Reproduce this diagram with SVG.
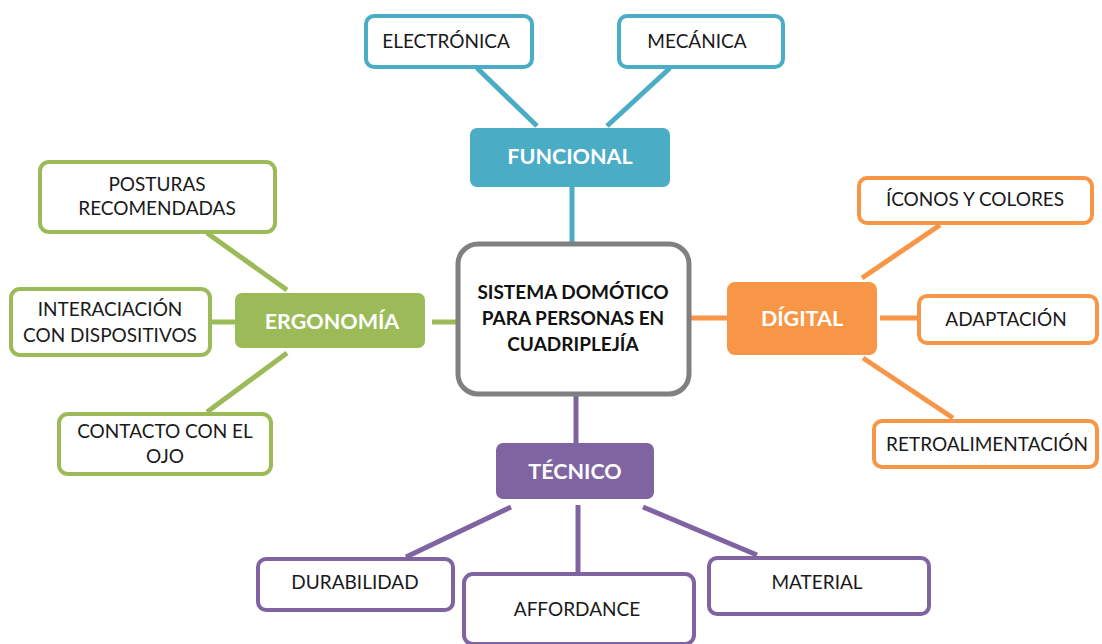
<svg xmlns="http://www.w3.org/2000/svg" width="1102" height="644" viewBox="0 0 1102 644">
<style>
.leaf{fill:#fff;stroke-width:4}
.b{stroke:#4BACC6}.g{stroke:#9BBB59}.o{stroke:#F79646}.p{stroke:#8064A2}
.t{font-family:Lato,"Liberation Sans",sans-serif;font-size:19px;fill:#1a1a1a;text-anchor:middle}
.h{font-family:Lato,"Liberation Sans",sans-serif;font-size:21.5px;font-weight:bold;fill:#fff;text-anchor:middle}
.c{font-family:Lato,"Liberation Sans",sans-serif;font-size:19px;font-weight:bold;fill:#111;text-anchor:middle}
#connectors line{stroke-width:5}
</style>
<rect width="1102" height="644" fill="#fff"/>
<g id="connectors">
<line class="b" x1="477" y1="68" x2="537" y2="126"/>
<line class="b" x1="670" y1="68" x2="607" y2="126"/>
<line class="b" x1="572" y1="187" x2="572" y2="243"/>
<line class="g" x1="207" y1="233" x2="287" y2="290"/>
<line class="g" x1="210" y1="322" x2="235" y2="322"/>
<line class="g" x1="287" y1="353" x2="207" y2="412"/>
<line class="g" x1="432" y1="322" x2="457" y2="322"/>
<line class="o" x1="690" y1="318" x2="727" y2="318"/>
<line class="o" x1="940" y1="225" x2="862" y2="278"/>
<line class="o" x1="880" y1="318" x2="918" y2="318"/>
<line class="o" x1="863" y1="358" x2="953" y2="418"/>
<line class="p" x1="576" y1="395" x2="576" y2="443"/>
<line class="p" x1="511" y1="507" x2="406" y2="557"/>
<line class="p" x1="578" y1="505" x2="578" y2="572"/>
<line class="p" x1="643" y1="507" x2="757" y2="555"/>
</g>
<g id="center">
<rect x="458" y="244" width="231" height="150" rx="20" fill="#fff" stroke="#808080" stroke-width="5"/>
<text class="c" x="573" y="299">SISTEMA DOMÓTICO</text>
<text class="c" x="573" y="325">PARA PERSONAS EN</text>
<text class="c" x="573" y="351">CUADRIPLEJÍA</text>
</g>
<g id="funcional">
<rect x="470" y="128" width="200" height="59" rx="7" fill="#4BACC6"/>
<text class="h" x="570" y="164">FUNCIONAL</text>
</g>
<g id="electronica">
<rect class="leaf b" x="366" y="16" width="166" height="51" rx="8"/>
<text class="t" x="446" y="48">ELECTRÓNICA</text>
</g>
<g id="mecanica">
<rect class="leaf b" x="619" y="16" width="164" height="51" rx="8"/>
<text class="t" x="697" y="48">MECÁNICA</text>
</g>
<g id="ergonomia">
<rect x="235" y="293" width="190" height="55" rx="7" fill="#9BBB59"/>
<text class="h" x="332" y="329">ERGONOMÍA</text>
</g>
<g id="posturas">
<rect class="leaf g" x="40" y="162" width="235" height="70" rx="9"/>
<text class="t" x="157" y="191">POSTURAS</text>
<text class="t" x="157" y="215">RECOMENDADAS</text>
</g>
<g id="interaciacion">
<rect class="leaf g" x="11" y="289" width="199" height="66" rx="9"/>
<text class="t" x="110" y="316">INTERACIACIÓN</text>
<text class="t" x="110" y="342">CON DISPOSITIVOS</text>
</g>
<g id="contacto">
<rect class="leaf g" x="59" y="414" width="212" height="60" rx="9"/>
<text class="t" x="165" y="438">CONTACTO CON EL</text>
<text class="t" x="165" y="463">OJO</text>
</g>
<g id="digital">
<rect x="727" y="282" width="150" height="73" rx="8" fill="#F79646"/>
<text class="h" x="802" y="326">DÍGITAL</text>
</g>
<g id="iconos">
<rect class="leaf o" x="859" y="178" width="233" height="45" rx="8"/>
<text class="t" x="975" y="206">ÍCONOS Y COLORES</text>
</g>
<g id="adaptacion">
<rect class="leaf o" x="919" y="296" width="178" height="47" rx="8"/>
<text class="t" x="1006" y="326">ADAPTACIÓN</text>
</g>
<g id="retroalimentacion">
<rect class="leaf o" x="874" y="421" width="223" height="46" rx="8"/>
<text class="t" x="987" y="451">RETROALIMENTACIÓN</text>
</g>
<g id="tecnico">
<rect x="496" y="443" width="158" height="56" rx="7" fill="#8064A2"/>
<text class="h" x="575" y="479">TÉCNICO</text>
</g>
<g id="durabilidad">
<rect class="leaf p" x="258" y="559" width="195" height="51" rx="8"/>
<text class="t" x="355" y="589">DURABILIDAD</text>
</g>
<g id="affordance">
<rect class="leaf p" x="464" y="574" width="230" height="70" rx="9"/>
<text class="t" x="577" y="616">AFFORDANCE</text>
</g>
<g id="material">
<rect class="leaf p" x="709" y="558" width="220" height="56" rx="8"/>
<text class="t" x="817" y="589">MATERIAL</text>
</g>
</svg>
